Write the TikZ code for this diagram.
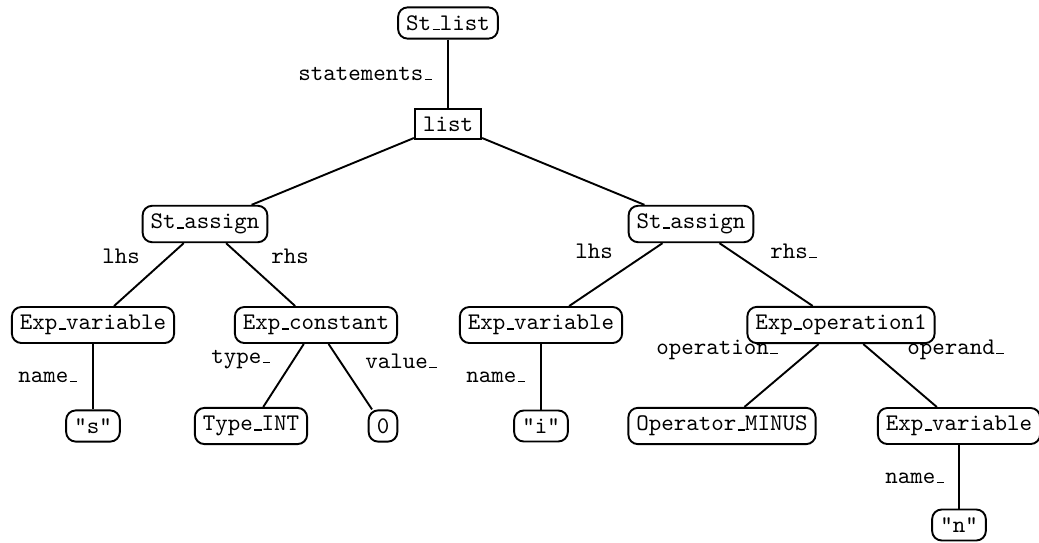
\documentclass[tikz,border=0pt]{standalone}
\newcommand\usc{\leavevmode\kern.06em\vbox{\hrule width.3em height 0.55pt}}
\begin{document}
\begin{tikzpicture}[x=0.42pt,y=-0.42pt,font=\ttfamily,
  tnode/.style={draw,rounded corners=4pt,line width=0.8pt,inner sep=3.4pt},
  lnode/.style={draw,line width=0.8pt,inner sep=3.4pt},
  elabel/.style={inner sep=0pt,anchor=base west},
  conn/.style={line width=0.8pt}]
\useasboundingbox (0,0) rectangle (1039,542);
% nodes
\node[tnode] (stlist) at (448,23) {St\usc list};
\node[lnode] (list) at (448,124) {list};
\node[tnode] (asgA) at (205,224) {St\usc assign};
\node[tnode] (asgB) at (691,224) {St\usc assign};
\node[tnode] (varA) at (93,325) {Exp\usc variable};
\node[tnode] (const) at (316,325) {Exp\usc constant};
\node[tnode] (varB) at (541,325) {Exp\usc variable};
\node[tnode] (oper) at (841,325) {Exp\usc operation1};
\node[tnode] (strS) at (93,426) {"s"};
\node[tnode] (tint) at (251,426) {Type\usc INT};
\node[tnode] (zero) at (383,426) {0};
\node[tnode] (strI) at (541,426) {"i"};
\node[tnode] (minus) at (722,426) {Operator\usc MINUS};
\node[tnode] (varC) at (959,426) {Exp\usc variable};
\node[tnode] (strN) at (959,525) {"n"};
% connectors
\draw[conn] (stlist) -- (list);
\draw[conn] (list) -- (asgA);
\draw[conn] (list) -- (asgB);
\draw[conn] (asgA) -- (varA);
\draw[conn] (asgA) -- (const);
\draw[conn] (varA) -- (strS);
\draw[conn] (const) -- (tint);
\draw[conn] (const) -- (zero);
\draw[conn] (asgB) -- (varB);
\draw[conn] (asgB) -- (oper);
\draw[conn] (varB) -- (strI);
\draw[conn] (oper) -- (minus);
\draw[conn] (oper) -- (varC);
\draw[conn] (varC) -- (strN);
% labels
\node[elabel] (lstat) at (298,80) {statements\usc};
\node[elabel] (llhsA) at (102,263) {lhs};
\node[elabel] (lrhsA) at (271,263) {rhs};
\node[elabel] (lnameA) at (18,382) {name\usc};
\node[elabel] (ltype) at (211,363) {type\usc};
\node[elabel] (lvalue) at (365,368) {value\usc};
\node[elabel] (llhsB) at (575,258) {lhs};
\node[elabel] (lrhsB) at (770,258) {rhs\usc};
\node[elabel] (lnameB) at (466,382) {name\usc};
\node[elabel] (loperation) at (656,354) {operation\usc};
\node[elabel] (loperand) at (907,354) {operand\usc};
\node[elabel] (lnameC) at (885,483) {name\usc};
\end{tikzpicture}
\end{document}
